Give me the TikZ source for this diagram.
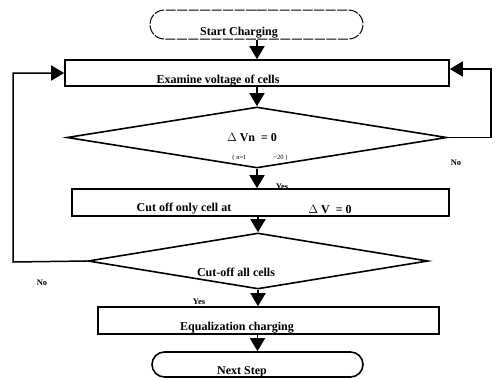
\documentclass[tikz,border=0pt]{standalone}
\usepackage{fontspec}
\setmainfont{Liberation Serif}
\usetikzlibrary{arrows.meta,shapes.geometric,shapes.misc}

\begin{document}
\begin{tikzpicture}[x=1pt, y=-1pt,
  flow/.style={-{Triangle[width=15pt,length=13pt]}, line width=1.5pt},
  procbox/.style={shape=rectangle, draw, line width=1.6pt, inner sep=0pt},
  termbox/.style={shape=rounded rectangle, draw, line width=1pt, inner sep=0pt},
  decide/.style={shape=diamond, draw, line width=1.6pt, inner sep=0pt},
  txt/.style={font=\bfseries\fontsize{12}{14}\selectfont, inner sep=0pt},
  tag/.style={font=\bfseries\fontsize{8.5}{10}\selectfont, inner sep=0pt},
  small/.style={font=\fontsize{6.5}{8}\selectfont, inner sep=0pt}]
\useasboundingbox (0,0) rectangle (496,378);
% shapes
\node[termbox, dash pattern=on 10pt off 1.5pt, minimum width=213pt, minimum height=29pt] (start) at (256.5,24.5) {};
\node[procbox, minimum width=384pt, minimum height=26pt] (exam) at (257,73) {};
\node[decide, minimum width=380pt, minimum height=61pt] (dec1) at (257,137.5) {};
\node[procbox, minimum width=377pt, minimum height=27pt] (cut) at (260.5,202.5) {};
\node[decide, minimum width=340pt, minimum height=56pt] (dec2) at (258,261) {};
\node[procbox, minimum width=341pt, minimum height=27pt] (equal) at (268.5,320.5) {};
\node[termbox, line width=1.6pt, minimum width=211pt, minimum height=25pt] (next) at (257.5,364.5) {};
% texts
\node[txt] (tstart) at (239,33) {Start Charging};
\node[txt] (texam) at (218,81) {Examine voltage of cells};
\node[txt] (tdv) at (252,137) {$\Delta$ Vn \ = 0};
\node[small] (trange) at (260,158) {(\ n=1 \hspace{24pt} \textasciitilde 20\ )};
\node[txt] (tcut) at (184,209) {Cut off only cell at};
\node[txt] (tcutdv) at (330,209) {$\Delta$ V \ = 0};
\node[txt] (tall) at (236,272) {Cut-off all cells};
\node[txt] (tequal) at (237,328) {Equalization charging};
\node[txt] (tnext) at (242,372) {Next Step};
\node[tag] (yes1) at (282,187) {Yes};
\node[tag] (no1) at (456,163) {No};
\node[tag] (no2) at (42,283) {No};
\node[tag] (yes2) at (199,302) {Yes};
% connectors
\coordinate (lft) at (13,262);
\coordinate (rgt) at (491,137.5);
\draw[flow] (start.south -| exam.north) -- (exam.north);
\draw[flow] (exam.south) -- (dec1.north);
\draw[flow] (dec1.south) -- (dec1.south |- cut.north);
\draw[flow] (dec2.north |- cut.south) -- (dec2.north);
\draw[flow] (dec2.south) -- (dec2.south |- equal.north);
\draw[flow] (next.north |- equal.south) -- (next.north);
\draw[flow] (dec2.west) -- (lft) |- (exam.west);
\draw[flow] (dec1.east) -- (rgt) |- ([yshift=4pt]exam.east);
\end{tikzpicture}
\end{document}
